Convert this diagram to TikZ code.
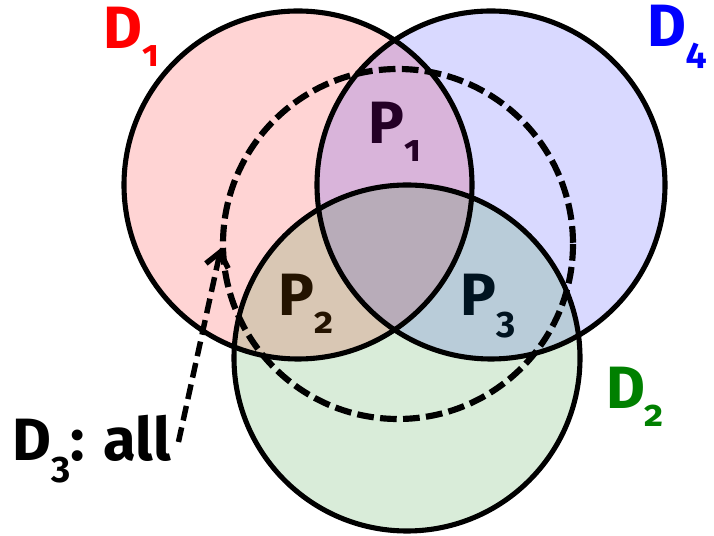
\documentclass[tikz,border=0pt]{standalone}
\usepackage{fontspec}
\setmainfont{Fira Sans}[Numbers=OldStyle]
\usetikzlibrary{arrows.meta}
\newcommand\sbs[1]{\raisebox{-0.3em}{\fontsize{21}{21}\selectfont #1}}
\begin{document}
\begin{tikzpicture}[x=0.02cm, y=-0.02cm,
  every node/.style={font=\fontsize{34}{36}\selectfont\bfseries, inner sep=0pt},
  ring/.style={line width=2.9pt},
  dsh/.style={line width=3.5pt, dash pattern=on 9.5pt off 3.6pt}]
  \useasboundingbox (0,0) rectangle (714,536);

  % region labels sit under the tinted discs
  \node (p1) at (395,132) {P\sbs{1}};
  \node (p2) at (306,304) {P\sbs{2}};
  \node (p3) at (488,306) {P\sbs{3}};

  \coordinate (c1) at (298,185);
  \coordinate (c4) at (491,185);
  \coordinate (c2) at (407,358);
  \coordinate (c3) at (398,244);

  \fill[red, opacity=0.17] (c1) circle (174);
  \fill[blue, opacity=0.15] (c4) circle (174);
  \fill[green!50!black, opacity=0.15] (c2) circle (173);

  \draw[ring] (c1) circle (174);
  \draw[ring] (c4) circle (174);
  \draw[ring] (c2) circle (173);
  \draw[dsh] (c3) circle (175);

  \node[red] (d1) at (131,37) {D\sbs{1}};
  \node[blue] (d4) at (677,37) {D\sbs{4}};
  \node[green!50!black] (d2) at (635,397) {D\sbs{2}};
  \node[anchor=west] (d3) at (12,449) {D\sbs{3}: all};

  \coordinate (tip) at (221,248);
  \draw[dsh, line width=3.1pt, dash pattern=on 8.5pt off 4pt,
    -{Straight Barb[length=8pt, width=13pt]}] ([xshift=4pt, yshift=4pt]d3.east) -- (tip);
\end{tikzpicture}
\end{document}
